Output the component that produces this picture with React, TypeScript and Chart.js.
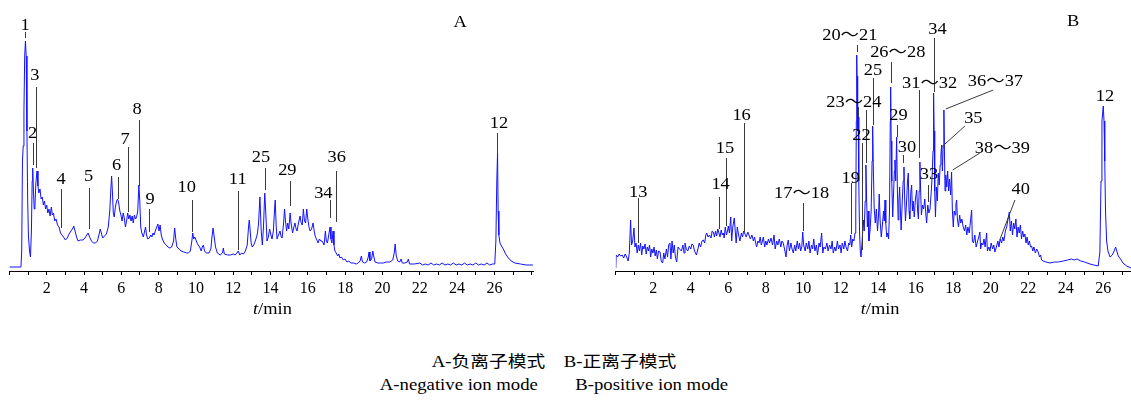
import React, { useEffect, useRef } from 'react';
import { Chart, registerables } from 'chart.js';

Chart.register(...registerables);

// ---------- data (time in min, relative intensity) ----------
const tickLabels = [2, 4, 6, 8, 10, 12, 14, 16, 18, 20, 22, 24, 26];

// Panel A: negative ion mode
const seriesA: [number, number][] = [
  [0,4],[0.3,4],[0.62,4],[0.66,20],[0.7,110],[0.74,125],[0.78,160],[0.82,215],[0.86,230],[0.9,215],[0.94,140],[0.98,70],[1.02,35],[1.08,20],[1.13,14],[1.18,40],[1.22,90],[1.25,103],[1.29,80],[1.33,62],[1.37,66],[1.42,88],[1.48,100],[1.53,85],[1.58,78],[1.64,82],[1.7,72],[1.76,74],[1.82,66],[1.88,70],[1.94,62],[2.0,66],[2.06,58],[2.12,62],[2.18,55],[2.25,64],[2.3,56],[2.36,58],[2.43,50],[2.5,52],[2.58,46],[2.66,44],[2.74,38],[2.82,36],[2.9,34],[3.0,31],[3.1,33],[3.2,37],[3.3,40],[3.38,42],[3.45,45],[3.52,40],[3.6,34],[3.68,30],[3.8,31],[3.95,31],[4.05,33],[4.15,36],[4.22,38],[4.3,34],[4.4,30],[4.5,28],[4.62,28],[4.72,30],[4.8,36],[4.87,42],[4.93,38],[5.0,33],[5.1,35],[5.2,37],[5.3,44],[5.38,60],[5.44,82],[5.48,95],[5.52,80],[5.57,58],[5.62,54],[5.68,64],[5.75,70],[5.8,72],[5.86,68],[5.92,60],[5.98,56],[6.04,50],[6.1,58],[6.15,54],[6.22,44],[6.28,50],[6.34,58],[6.4,52],[6.46,56],[6.52,50],[6.58,55],[6.64,48],[6.7,56],[6.76,52],[6.82,54],[6.88,60],[6.94,86],[6.99,70],[7.04,44],[7.1,38],[7.18,34],[7.25,40],[7.3,44],[7.35,36],[7.42,32],[7.5,33],[7.58,36],[7.64,34],[7.7,38],[7.76,36],[7.82,40],[7.9,44],[7.96,47],[8.02,40],[8.08,46],[8.14,36],[8.2,32],[8.3,28],[8.4,26],[8.5,24],[8.6,23],[8.7,24],[8.8,30],[8.86,43],[8.92,32],[8.98,24],[9.1,22],[9.2,20],[9.35,19],[9.5,18],[9.6,18],[9.7,20],[9.78,30],[9.83,38],[9.88,32],[9.94,34],[10.0,31],[10.06,28],[10.12,26],[10.2,24],[10.28,20],[10.34,24],[10.4,26],[10.46,20],[10.56,18],[10.7,18],[10.8,22],[10.86,34],[10.92,43],[10.98,34],[11.05,24],[11.15,18],[11.3,16],[11.42,18],[11.47,23],[11.52,17],[11.7,16],[11.85,16],[12.0,17],[12.1,16],[12.2,18],[12.27,20],[12.35,16],[12.45,18],[12.55,17],[12.65,20],[12.75,26],[12.82,44],[12.86,51],[12.9,42],[12.96,28],[13.02,24],[13.1,26],[13.18,30],[13.25,34],[13.3,38],[13.36,48],[13.43,74],[13.5,40],[13.56,26],[13.62,44],[13.69,78],[13.75,56],[13.81,30],[13.88,34],[13.95,42],[14.02,36],[14.08,32],[14.15,40],[14.21,60],[14.25,71],[14.3,46],[14.35,32],[14.42,36],[14.51,40],[14.57,34],[14.62,33],[14.7,48],[14.75,62],[14.8,50],[14.86,40],[14.92,48],[14.98,42],[15.05,58],[15.1,48],[15.18,38],[15.25,44],[15.31,48],[15.37,42],[15.42,40],[15.5,48],[15.58,55],[15.64,48],[15.7,46],[15.76,62],[15.82,50],[15.88,48],[15.94,62],[16.0,52],[16.06,44],[16.12,40],[16.2,42],[16.28,48],[16.34,40],[16.39,35],[16.46,32],[16.55,28],[16.62,32],[16.7,30],[16.76,30],[16.82,28],[16.87,26],[16.94,40],[16.99,30],[17.05,28],[17.12,36],[17.19,44],[17.24,32],[17.29,28],[17.35,40],[17.4,26],[17.45,20],[17.52,18],[17.6,15],[17.66,17],[17.72,13],[17.8,14],[17.9,11],[17.99,12],[18.1,9],[18.2,10],[18.3,8],[18.45,8],[18.6,7],[18.7,8],[18.8,10],[18.87,15],[18.93,9],[19.05,8],[19.15,9],[19.24,14],[19.28,19],[19.33,10],[19.42,12],[19.48,20],[19.53,15],[19.6,9],[19.75,8],[19.9,8],[20.05,8],[20.2,9],[20.4,9],[20.55,11],[20.63,18],[20.68,27],[20.74,15],[20.82,10],[20.92,9],[21.0,12],[21.06,8],[21.2,8],[21.33,9],[21.39,12],[21.45,7],[21.7,7],[22.0,8],[22.15,6],[22.3,7],[22.45,6],[22.6,8],[22.75,6],[22.9,7],[23.05,6],[23.2,8],[23.35,6],[23.5,7],[23.65,6],[23.8,8],[23.95,6],[24.1,7],[24.25,6],[24.4,8],[24.55,6],[24.7,7],[24.85,6],[25.0,8],[25.15,6],[25.3,7],[25.45,6],[25.6,8],[25.75,6],[25.9,7],[26.02,7],[26.08,30],[26.13,90],[26.17,118],[26.2,60],[26.24,36],[26.3,28],[26.38,25],[26.48,22],[26.6,17],[26.75,13],[26.9,10],[27.1,8],[27.4,7],[27.7,6],[28.07,6]
];

// Panel B: positive ion mode
const seriesB: [number, number][] = [
  [0,3],[0.02,16],[0.1,14],[0.18,17],[0.26,15],[0.34,16],[0.42,13],[0.5,17],[0.58,14],[0.66,10],[0.72,18],[0.79,51],[0.84,26],[0.9,30],[0.97,43],[1.02,24],[1.08,28],[1.14,18],[1.2,26],[1.26,20],[1.32,28],[1.38,16],[1.44,25],[1.5,22],[1.56,27],[1.62,17],[1.68,24],[1.74,20],[1.8,26],[1.86,14],[1.92,22],[1.98,18],[2.04,24],[2.1,15],[2.16,21],[2.22,12],[2.28,20],[2.36,19],[2.42,10],[2.5,8],[2.56,18],[2.62,12],[2.7,22],[2.76,14],[2.82,26],[2.89,28],[2.94,12],[3.0,30],[3.06,18],[3.12,26],[3.18,14],[3.25,9],[3.32,24],[3.4,22],[3.5,20],[3.58,26],[3.64,18],[3.69,28],[3.76,22],[3.84,20],[3.92,25],[4.0,22],[4.06,27],[4.13,26],[4.2,20],[4.3,16],[4.38,22],[4.45,28],[4.52,24],[4.6,30],[4.67,31],[4.74,28],[4.8,36],[4.85,38],[4.92,34],[5.0,36],[5.08,33],[5.14,40],[5.2,39],[5.26,34],[5.32,40],[5.38,35],[5.44,42],[5.5,38],[5.56,34],[5.62,41],[5.68,36],[5.73,38],[5.78,33],[5.84,44],[5.9,36],[5.96,40],[6.0,45],[6.06,38],[6.13,54],[6.18,30],[6.24,44],[6.32,53],[6.37,40],[6.42,28],[6.48,44],[6.55,36],[6.62,30],[6.7,38],[6.76,34],[6.82,40],[6.89,37],[6.96,34],[7.04,39],[7.1,36],[7.18,32],[7.26,36],[7.34,30],[7.4,34],[7.46,28],[7.51,24],[7.58,30],[7.64,28],[7.7,34],[7.76,26],[7.82,30],[7.87,34],[7.94,24],[8.0,30],[8.06,26],[8.14,32],[8.2,28],[8.28,33],[8.36,26],[8.44,36],[8.5,22],[8.58,30],[8.64,26],[8.72,32],[8.8,24],[8.86,30],[8.93,28],[9.0,22],[9.08,14],[9.14,26],[9.2,31],[9.26,20],[9.34,28],[9.4,22],[9.47,18],[9.54,26],[9.6,20],[9.68,30],[9.74,22],[9.8,28],[9.86,20],[9.92,24],[9.97,39],[10.02,26],[10.1,20],[10.16,28],[10.24,22],[10.3,30],[10.36,18],[10.44,26],[10.5,22],[10.56,32],[10.62,20],[10.7,26],[10.76,16],[10.84,28],[10.9,24],[10.98,38],[11.04,18],[11.1,24],[11.18,22],[11.26,28],[11.32,20],[11.4,26],[11.48,22],[11.54,30],[11.6,18],[11.68,24],[11.74,20],[11.82,30],[11.88,22],[11.96,26],[12.02,18],[12.08,28],[12.16,22],[12.22,30],[12.28,24],[12.36,20],[12.42,28],[12.48,26],[12.53,36],[12.58,24],[12.64,32],[12.7,30],[12.76,38],[12.8,60],[12.83,150],[12.85,216],[12.87,195],[12.9,140],[12.93,154],[12.96,90],[13.0,40],[13.04,20],[13.08,14],[13.14,30],[13.2,51],[13.25,40],[13.3,70],[13.34,106],[13.38,70],[13.42,44],[13.46,60],[13.5,30],[13.56,40],[13.62,60],[13.67,110],[13.7,145],[13.74,100],[13.78,64],[13.84,48],[13.9,62],[13.96,40],[14.02,58],[14.05,77],[14.1,50],[14.16,34],[14.22,46],[14.28,60],[14.32,50],[14.36,71],[14.4,48],[14.45,34],[14.5,38],[14.55,32],[14.6,60],[14.64,150],[14.66,184],[14.69,130],[14.72,90],[14.77,54],[14.82,80],[14.86,100],[14.89,111],[14.93,90],[14.98,134],[15.02,80],[15.06,51],[15.1,70],[15.14,84],[15.18,60],[15.22,41],[15.28,70],[15.33,90],[15.37,104],[15.41,70],[15.45,50],[15.5,66],[15.56,90],[15.6,98],[15.64,60],[15.68,52],[15.74,80],[15.78,86],[15.82,60],[15.86,70],[15.92,54],[15.98,72],[16.05,81],[16.1,60],[16.14,52],[16.18,80],[16.22,109],[16.26,80],[16.3,56],[16.36,66],[16.42,62],[16.48,72],[16.54,56],[16.58,48],[16.64,66],[16.7,58],[16.76,62],[16.82,78],[16.87,94],[16.92,120],[16.95,178],[16.98,140],[17.01,80],[17.05,54],[17.1,84],[17.15,70],[17.2,98],[17.25,86],[17.3,106],[17.34,116],[17.38,126],[17.42,100],[17.46,124],[17.5,161],[17.53,120],[17.56,80],[17.6,96],[17.65,84],[17.7,100],[17.75,80],[17.8,92],[17.86,76],[17.91,99],[17.95,62],[18.0,44],[18.05,60],[18.1,56],[18.14,66],[18.18,71],[18.22,52],[18.28,44],[18.34,56],[18.4,48],[18.46,52],[18.53,44],[18.6,40],[18.66,46],[18.72,36],[18.78,44],[18.85,38],[18.92,50],[18.98,61],[19.02,30],[19.08,28],[19.15,36],[19.22,24],[19.3,30],[19.36,34],[19.42,39],[19.46,22],[19.52,28],[19.58,26],[19.64,32],[19.7,24],[19.78,38],[19.82,20],[19.9,24],[19.96,20],[20.02,28],[20.1,22],[20.16,26],[20.22,19],[20.3,24],[20.38,30],[20.44,24],[20.5,32],[20.58,28],[20.64,34],[20.7,30],[20.78,40],[20.85,44],[20.92,52],[20.99,59],[21.04,40],[21.1,50],[21.16,36],[21.22,48],[21.28,42],[21.34,52],[21.4,34],[21.46,44],[21.52,38],[21.58,46],[21.64,32],[21.7,40],[21.76,34],[21.82,37],[21.88,28],[21.94,34],[22.0,26],[22.06,30],[22.12,24],[22.18,25],[22.24,20],[22.3,24],[22.38,18],[22.45,22],[22.53,19],[22.6,14],[22.66,16],[22.71,11],[22.8,10],[22.95,9],[23.16,8],[23.4,9],[23.6,9],[23.87,10],[24.1,11],[24.3,12],[24.45,11],[24.6,12],[24.8,10],[25.0,9],[25.29,7],[25.5,6],[25.73,5],[25.82,19],[25.88,90],[25.93,150],[26.0,165],[26.04,150],[26.08,110],[26.12,60],[26.18,30],[26.25,20],[26.36,14],[26.48,16],[26.58,20],[26.66,24],[26.72,20],[26.8,15],[26.92,12],[27.05,8],[27.25,5],[27.48,3]
];

// peak numbers: [label, time of text centre, height of text centre]
const peakTextA: [string, number, number][] = [
  ['1',0.84,246],['2',1.25,138],['3',1.37,196],['4',2.77,92],['5',4.25,95],['6',5.75,106],['7',6.2,132],['8',6.84,162],['9',7.54,72],['10',9.51,84],['11',12.24,92],['25',13.49,114],['29',14.9,101],['34',16.83,78],['36',17.55,114],['12',26.25,148]
];
// leader lines: [t1, h1, t2, h2]
const leaderA: [number, number, number, number][] = [
  [0.86,239,0.86,233],[1.25,128,1.25,106],[1.45,184,1.45,103],[2.77,82,2.77,43],[4.25,83,4.25,42],[5.81,94,5.81,72],[6.34,124,6.34,59],[6.93,151,6.93,85],[7.5,62,7.5,39],[9.81,71,9.81,39],[12.26,80,12.26,21],[13.7,103,13.7,81],[15.06,90,15.06,65],[17.21,71,17.21,53],[17.51,100,17.51,49],[26.16,138,26.16,118]
];
const peakTextB: [string, number, number][] = [
  ['13',1.2,79],['14',5.59,87],['15',5.82,123],['16',6.71,156],['17～18',9.91,78],['19',12.53,93],['20～21',12.48,236],['23～24',12.7,169],['22',13.1,136],['25',13.72,201],['26～28',15.04,219],['29',15.08,156],['30',15.53,124],['31～32',16.74,188],['33',16.7,97],['34',17.16,242],['36～37',20.25,190],['35',19.07,153],['38～39',20.62,123],['40',21.6,82],['12',26.09,175]
];
const leaderB: [number, number, number, number][] = [
  [1.2,73,1.2,28],[5.52,74,5.52,42],[5.88,113,5.88,45],[6.82,148,6.82,39],[9.97,68,9.97,40],[12.54,88,12.54,37],[12.85,226,12.85,219],[12.93,164,12.93,154],[13.33,161,13.33,108],[13.15,128,13.15,21],[13.72,193,13.72,146],[14.68,209,14.68,188],[14.98,146,14.98,134],[15.33,116,15.33,108],[16.15,181,16.15,113],[16.63,86,16.63,69],[16.97,233,16.97,179],[20.13,181,17.6,162],[18.62,145,17.38,124],[19.42,118,17.97,101],[21.29,71,20.5,32]
];
const panelLetterA: [string, number, number] = ['A', 24.16, 249];
const panelLetterB: [string, number, number] = ['B', 24.4, 250];
const captionZh = 'A-负离子模式\u3000B-正离子模式';
const captionEn = 'A-negative ion mode\u3000\u3000B-positive ion mode';

// ---------- layout ----------
const CANVAS_H = 330;
const AXIS_Y = 271;
const PLOT_TOP = 31;
const XAXIS_H = 40;
const SX = 1.15;
const SERIF = '"Liberation Serif", "Noto Sans CJK SC", serif';

function drawScaledText(ctx: CanvasRenderingContext2D, text: string, cx: number, cy: number, size: number) {
  ctx.save();
  ctx.font = `${size}px ${SERIF}`;
  ctx.textAlign = 'center';
  ctx.textBaseline = 'alphabetic';
  ctx.translate(cx, cy + size * 0.34);
  ctx.scale(SX, 1);
  ctx.fillText(text, 0, 0);
  ctx.restore();
}

function annotationPlugin(peaks: [string, number, number][], leaders: [number, number, number, number][], letter: [string, number, number]) {
  return {
    id: 'peakAnnotations',
    afterDraw(chart: any) {
      const { ctx } = chart;
      const x = chart.scales.x;
      const y = chart.scales.y;
      ctx.save();
      ctx.strokeStyle = '#3a3a3a';
      ctx.lineWidth = 1;
      for (const [t1, h1, t2, h2] of leaders) {
        let x1 = x.getPixelForValue(t1);
        let x2 = x.getPixelForValue(t2);
        if (t1 === t2) { x1 = Math.round(x1) + 0.5; x2 = x1; }
        ctx.beginPath();
        ctx.moveTo(x1, y.getPixelForValue(h1));
        ctx.lineTo(x2, y.getPixelForValue(h2));
        ctx.stroke();
      }
      ctx.fillStyle = '#000';
      for (const [txt, t, h] of peaks) {
        drawScaledText(ctx, txt, x.getPixelForValue(t), y.getPixelForValue(h), 16);
      }
      drawScaledText(ctx, letter[0], x.getPixelForValue(letter[1]), y.getPixelForValue(letter[2]), 16);
      // axis title t/min
      const cx = x.getPixelForValue(14.1);
      const base = AXIS_Y + 37 + 5.5;
      ctx.save();
      ctx.textBaseline = 'alphabetic';
      ctx.textAlign = 'left';
      ctx.font = `italic 16px ${SERIF}`;
      const wT = ctx.measureText('t').width;
      ctx.font = `16px ${SERIF}`;
      const wR = ctx.measureText('/min').width;
      ctx.translate(cx, base);
      ctx.scale(SX, 1);
      const start = -(wT + wR) / 2;
      ctx.font = `italic 16px ${SERIF}`;
      ctx.fillText('t', start, 0);
      ctx.font = `16px ${SERIF}`;
      ctx.fillText('/min', start + wT, 0);
      ctx.restore();
      ctx.restore();
    },
  };
}

function makeConfig(series: [number, number][], peaks: [string, number, number][], leaders: [number, number, number, number][], letter: [string, number, number], xMax: number, padLeft: number, padRight: number): any {
  return {
    type: 'line',
    data: {
      datasets: [{
        data: series.map(([t, h]) => ({ x: t, y: h })),
        borderColor: '#1212ff',
        borderWidth: 1,
        pointRadius: 0,
        tension: 0,
        fill: false,
      }],
    },
    options: {
      responsive: false,
      animation: false,
      events: [],
      layout: { padding: { left: padLeft, right: padRight, top: PLOT_TOP, bottom: CANVAS_H - AXIS_Y - XAXIS_H } },
      plugins: { legend: { display: false }, tooltip: { enabled: false } },
      scales: {
        x: {
          type: 'linear',
          min: 0,
          max: xMax,
          afterFit: (s: any) => { s.height = XAXIS_H; },
          border: { display: true, color: '#000', width: 1 },
          grid: { drawOnChartArea: false, drawTicks: true, tickLength: 4, color: '#000', lineWidth: 1 },
          ticks: {
            stepSize: 1,
            autoSkip: false,
            maxRotation: 0,
            minRotation: 0,
            includeBounds: false,
            padding: 4,
            color: '#000',
            font: { family: SERIF, size: 16 },
            callback: (v: number) => {
              const r = Math.round(v);
              return Math.abs(v - r) < 1e-6 && tickLabels.includes(r) ? String(r) : '';
            },
          },
        },
        y: { type: 'linear', min: 0, max: 240, display: false },
      },
    },
    plugins: [annotationPlugin(peaks, leaders, letter)],
  };
}

const captionStyle = (top: number): React.CSSProperties => ({
  position: 'absolute',
  left: 0,
  top,
  width: 1108,
  textAlign: 'center',
  fontFamily: SERIF,
  fontSize: 16,
  lineHeight: '16px',
  whiteSpace: 'pre',
  color: '#000',
  transform: `scaleX(${SX + 0.02})`,
  transformOrigin: '554px 0',
});

export default function App() {
  const refA = useRef<HTMLCanvasElement>(null);
  const refB = useRef<HTMLCanvasElement>(null);
  useEffect(() => {
    const a = new Chart(refA.current as HTMLCanvasElement, makeConfig(seriesA, peakTextA, leaderA, panelLetterA, 28.07, 9.4, 560 - 533));
    const b = new Chart(refB.current as HTMLCanvasElement, makeConfig(seriesB, peakTextB, leaderB, panelLetterB, 27.48, 615.8 - 580, 0));
    return () => { a.destroy(); b.destroy(); };
  }, []);
  return (
    <div style={{ position: 'absolute', left: 0, top: 0, width: 1131, height: 401, background: '#fff', overflow: 'hidden' }}>
      <canvas ref={refA} width={560} height={CANVAS_H} style={{ position: 'absolute', left: 0, top: 0, width: 560, height: CANVAS_H }} />
      <canvas ref={refB} width={551} height={CANVAS_H} style={{ position: 'absolute', left: 580, top: 0, width: 551, height: CANVAS_H }} />
      <div style={captionStyle(354)}>{captionZh}</div>
      <div style={captionStyle(377)}>{captionEn}</div>
    </div>
  );
}
